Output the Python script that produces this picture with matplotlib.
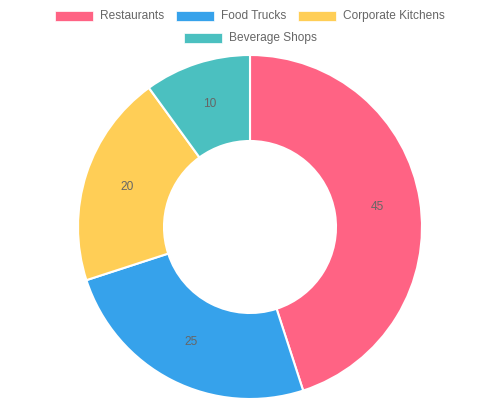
import matplotlib
matplotlib.use("Agg")
import matplotlib.pyplot as plt
from matplotlib.patches import Rectangle

labels = ["Restaurants", "Food Trucks", "Corporate Kitchens", "Beverage Shops"]
values = [45, 25, 20, 10]
colors = ["#FF6384", "#36A2EB", "#FFCE56", "#4BC0C0"]

plt.rcParams['font.family'] = ['Liberation Sans', 'DejaVu Sans']
W, H = 500, 400
fig = plt.figure(figsize=(W / 100, H / 100), dpi=100)
ax = fig.add_axes([0, 0, 1, 1])

# y axis is inverted (pixel coords), so -90 points up and "counterclock" draws clockwise
cx, cy, r_out = 250, 227, 172
wedges, texts, autotexts = ax.pie(
    values, colors=colors, startangle=-90, counterclock=True,
    center=(cx, cy), radius=r_out, frame=True,
    autopct=lambda p: f"{p * sum(values) / 100:.0f}",
    pctdistance=0.75,
    wedgeprops=dict(width=86, edgecolor="white", linewidth=1.5),
    textprops=dict(color="#666666", fontsize=8.6),
)
ax.set_xlim(0, W)
ax.set_ylim(H, 0)
ax.set_aspect('equal')
ax.axis('off')

# legend (Chart.js style)
fs = 8.6
rows = [[0, 1, 2], [3]]
row_y = [16, 38]
box_x = [[55, 176, 298], [184]]
for ri, row in enumerate(rows):
    for j, i in enumerate(row):
        bx = box_x[ri][j]
        ax.add_patch(Rectangle((bx, row_y[ri] - 5), 38, 10, facecolor=colors[i],
                               edgecolor="white", linewidth=0.5, clip_on=False))
        ax.text(bx + 45, row_y[ri], labels[i], fontsize=fs, color="#666666",
                va="center", ha="left")

fig.savefig("out.png", dpi=100)
